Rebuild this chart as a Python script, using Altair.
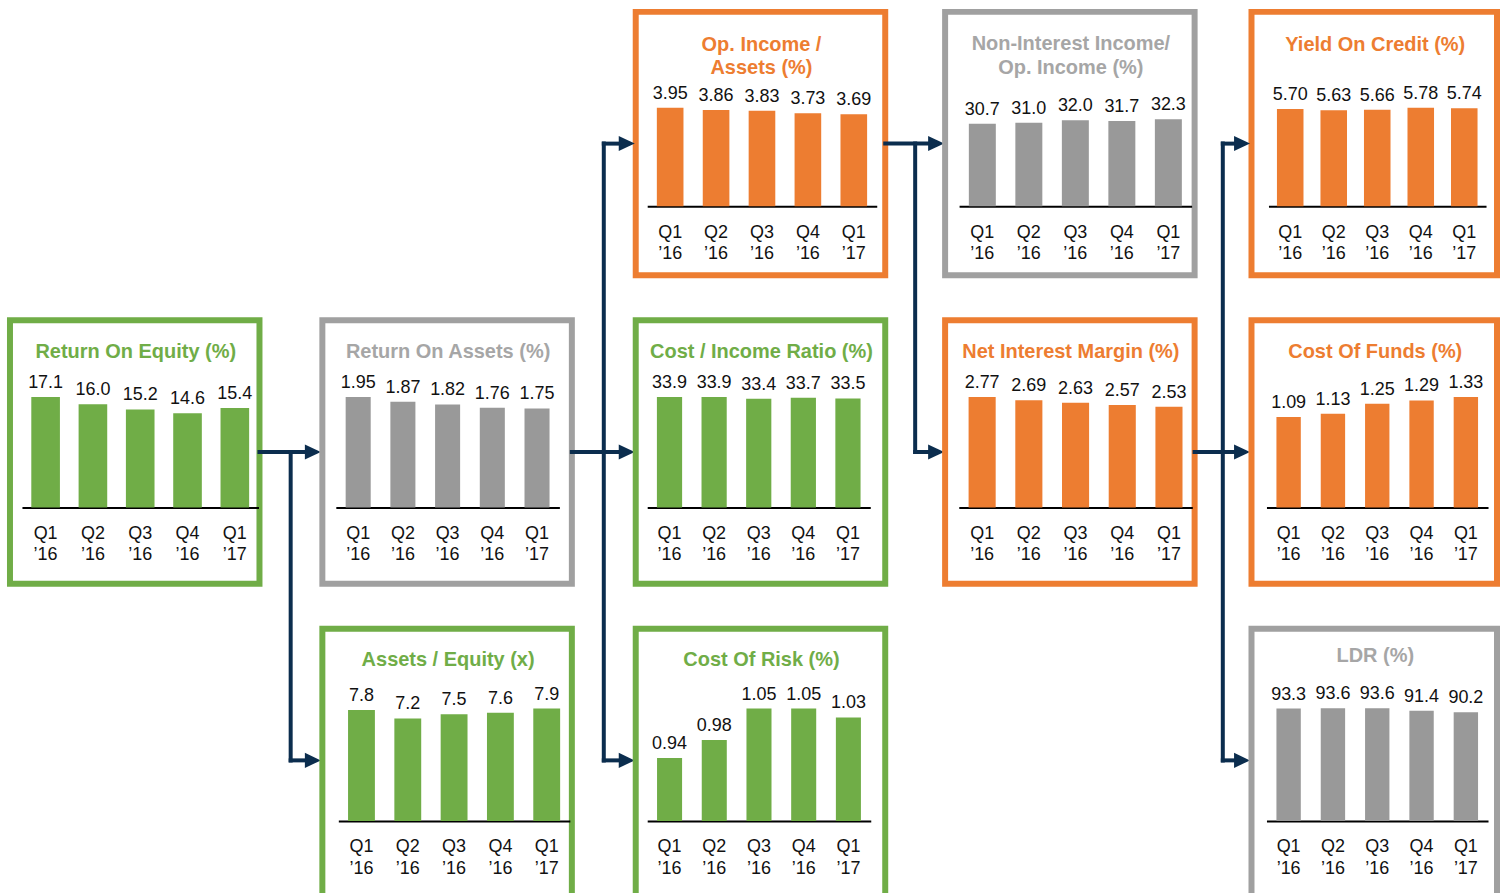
import altair as alt
import pandas as pd

# ---- data -------------------------------------------------------------
QUARTERS = ["Q1 ’16", "Q2 ’16", "Q3 ’16", "Q4 ’16", "Q1 ’17"]

ROE = [17.1, 16.0, 15.2, 14.6, 15.4]
ROA = [1.95, 1.87, 1.82, 1.76, 1.75]
ASSETS_EQUITY = [7.8, 7.2, 7.5, 7.6, 7.9]
OP_INCOME_ASSETS = [3.95, 3.86, 3.83, 3.73, 3.69]
COST_INCOME = [33.9, 33.9, 33.4, 33.7, 33.5]
COST_OF_RISK = [0.94, 0.98, 1.05, 1.05, 1.03]
NON_INTEREST_SHARE = [30.7, 31.0, 32.0, 31.7, 32.3]
NET_INTEREST_MARGIN = [2.77, 2.69, 2.63, 2.57, 2.53]
YIELD_ON_CREDIT = [5.70, 5.63, 5.66, 5.78, 5.74]
COST_OF_FUNDS = [1.09, 1.13, 1.25, 1.29, 1.33]
LDR = [93.3, 93.6, 93.6, 91.4, 90.2]

# ---- style ------------------------------------------------------------
FONT = "Liberation Sans"
GREEN = "#70AD47"
ORANGE = "#ED7D31"
GREY_BAR = "#999999"
GREY_BOX = "#A0A0A0"
GREY_TITLE = "#A6A6A6"
NAVY = "#0B2D4E"
INK = "#111111"

THEMES = {
    "green": dict(bar=GREEN, box=GREEN, title=GREEN),
    "orange": dict(bar=ORANGE, box=ORANGE, title=ORANGE),
    "grey": dict(bar=GREY_BAR, box=GREY_BOX, title=GREY_TITLE),
}

# ---- grid layout --------------------------------------------------------
COL_W = [250, 250, 250, 250, 246]
COL_GAPS = [62.5, 64, 60, 56.5]
ROW_H = [264, 264, 268]
ROW_GAP = 45
LEFT, TOP = 10, 11
COL_X = [LEFT + sum(COL_W[:i]) + sum(COL_GAPS[:i]) for i in range(5)]
ROW_Y = [TOP + sum(ROW_H[:i]) + ROW_GAP * i for i in range(3)]
BOX_STROKE = 6

# panel settings: grid cell, series, theme, label format, title lines,
# title baseline, x range of the baseline rule, bar fraction of the band,
# baseline position, value domain and pixel height of the domain top
PANELS = [
    dict(cell=(0, 1), values=ROE, theme="green", fmt=".1f",
         title=["Return On Equity (%)"], ty=38.2, xr=(12, 249), bar=0.605,
         base=187.7, lo=0, hi=17.1, px=110.7),
    dict(cell=(1, 1), values=ROA, theme="grey", fmt=".2f",
         title=["Return On Assets (%)"], ty=38.2, xr=(13.5, 237.5), bar=0.56,
         base=187.7, lo=0, hi=1.95, px=110.7),
    dict(cell=(1, 2), values=ASSETS_EQUITY, theme="green", fmt=".1f",
         title=["Assets / Equity (x)"], ty=37, xr=(16, 248), bar=0.58,
         base=192.7, lo=0, hi=7.9, px=112.7),
    dict(cell=(2, 0), values=OP_INCOME_ASSETS, theme="orange", fmt=".2f",
         title=["Op. Income /", "Assets (%)"], ty=39, xr=(11.5, 241.5), bar=0.58,
         base=194.7, lo=0, hi=3.95, px=98.7),
    dict(cell=(2, 1), values=COST_INCOME, theme="green", fmt=".1f",
         title=["Cost / Income Ratio (%)"], ty=38.2, xr=(11.5, 235), bar=0.565,
         base=187.7, lo=0, hi=33.9, px=110.7),
    dict(cell=(2, 2), values=COST_OF_RISK, theme="green", fmt=".2f",
         title=["Cost Of Risk (%)"], ty=37, xr=(11.5, 235.5), bar=0.56,
         base=192.7, lo=0.8, hi=1.05, px=112.7),
    dict(cell=(3, 0), values=NON_INTEREST_SHARE, theme="grey", fmt=".1f",
         title=["Non-Interest Income/", "Op. Income (%)"], ty=38.5, xr=(14, 247), bar=0.58,
         base=194.7, lo=0, hi=32.3, px=87),
    dict(cell=(3, 1), values=NET_INTEREST_MARGIN, theme="orange", fmt=".2f",
         title=["Net Interest Margin (%)"], ty=38.2, xr=(13.7, 247.7), bar=0.58,
         base=187.7, lo=0, hi=2.77, px=110.7),
    dict(cell=(4, 0), values=YIELD_ON_CREDIT, theme="orange", fmt=".2f",
         title=["Yield On Credit (%)"], ty=39, xr=(17, 235), bar=0.61,
         base=194.7, lo=0, hi=5.78, px=98.7),
    dict(cell=(4, 1), values=COST_OF_FUNDS, theme="orange", fmt=".2f",
         title=["Cost Of Funds (%)"], ty=38.2, xr=(15, 237), bar=0.55,
         base=187.7, lo=0, hi=1.33, px=110.7),
    dict(cell=(4, 2), values=LDR, theme="grey", fmt=".1f",
         title=["LDR (%)"], ty=33.3, xr=(15, 237), bar=0.55,
         base=192.7, lo=0, hi=93.6, px=113),
]

# ---- connectors: source cell -> rows of the next column ----------------
FLOWS = [
    ((0, 1), [1, 2]),
    ((1, 1), [0, 1, 2]),
    ((2, 0), [0, 1]),
    ((3, 1), [0, 1, 2]),
]
HEAD_LEN = 16
ARROW = "M-1,-0.94L1,0L-1,0.94Z"
ONE = pd.DataFrame({"k": [0]})


def row_mid(r):
    return ROW_Y[r] + 132


def connector_layers(src):
    """Rules and arrowheads that leave panel `src`, in that panel's pixels."""
    layers = []
    for (c, r), rows in FLOWS:
        if (c, r) != src:
            continue
        ox, oy = COL_X[c], ROW_Y[r]
        start = COL_X[c] + COL_W[c]
        tip = COL_X[c + 1] - 1
        g = (start + COL_X[c + 1]) / 2
        segs = [(start, row_mid(r), tip - HEAD_LEN + 2, row_mid(r))]
        ys = [row_mid(t) for t in rows] + [row_mid(r)]
        segs.append((g, min(ys), g, max(ys)))
        for t in rows:
            if t != r:
                segs.append((g, row_mid(t), tip - HEAD_LEN + 2, row_mid(t)))
        for x1, y1, x2, y2 in segs:
            layers.append(
                alt.Chart(ONE)
                .mark_rule(color=NAVY, strokeWidth=4, strokeCap="square")
                .encode(x=alt.value(x1 - ox), x2=alt.value(x2 - ox),
                        y=alt.value(y1 - oy), y2=alt.value(y2 - oy))
            )
        for t in rows:
            layers.append(
                alt.Chart(ONE)
                .mark_point(shape=ARROW, size=HEAD_LEN ** 2, filled=True,
                            color=NAVY, opacity=1, strokeWidth=0)
                .encode(x=alt.value(tip - HEAD_LEN / 2 - ox),
                        y=alt.value(row_mid(t) - oy))
            )
    return layers


def make_panel(p):
    c, r = p["cell"]
    w, h = COL_W[c], ROW_H[r]
    theme = THEMES[p["theme"]]
    df = pd.DataFrame({"quarter": QUARTERS, "value": p["values"]})
    pad = 1 - p["bar"]

    x = alt.X(
        "quarter:N", sort=None,
        scale=alt.Scale(range=list(p["xr"]), paddingInner=pad, paddingOuter=pad / 2),
        axis=alt.Axis(
            title=None, orient="bottom", offset=p["base"] - h,
            domainColor="#000000", domainWidth=2, ticks=False, tickSize=0,
            grid=False, labelAngle=0, labelOverlap=False,
            labelExpr="split(datum.label, ' ')",
            labelFont=FONT, labelFontSize=18, labelColor=INK,
            labelBaseline="alphabetic", labelPadding=31, labelLineHeight=21.5,
        ),
    )
    y = alt.Y(
        "value:Q",
        scale=alt.Scale(domain=[p["lo"], p["hi"]],
                        range=[p["base"], p["base"] - p["px"]],
                        zero=False, nice=False),
        axis=None,
    )

    bars = alt.Chart(df).mark_bar(color=theme["bar"]).encode(
        x=x, y=y, y2=alt.datum(p["lo"])
    )
    values = alt.Chart(df).mark_text(
        baseline="alphabetic", dy=-9, font=FONT, fontSize=18, color=INK
    ).encode(x=x, y=y, text=alt.Text("value:Q", format=p["fmt"]))
    title = alt.Chart(pd.DataFrame({"t": ["\n".join(p["title"])]})).mark_text(
        font=FONT, fontSize=20, fontWeight="bold", color=theme["title"],
        align="center", baseline="alphabetic", lineBreak="\n", lineHeight=23.5,
    ).encode(text="t:N", x=alt.value(w / 2 + 1), y=alt.value(p["ty"]))

    return alt.layer(bars, values, title, *connector_layers(p["cell"])).properties(
        width=w, height=h,
        view=alt.ViewBackground(stroke=theme["box"], strokeWidth=BOX_STROKE),
    )


def blank(w, h):
    return alt.Chart(ONE).mark_point(opacity=0).encode(
        x=alt.value(w / 2), y=alt.value(h / 2)
    ).properties(
        width=w, height=h,
        view=alt.ViewBackground(stroke="transparent", strokeWidth=BOX_STROKE),
    )


by_cell = {p["cell"]: make_panel(p) for p in PANELS}

# grid of panel columns interleaved with empty gap columns of their own width
cells = []
for r in range(3):
    for c in range(5):
        cells.append(by_cell.get((c, r), blank(COL_W[c], ROW_H[r])))
        if c < 4:
            cells.append(blank(COL_GAPS[c], ROW_H[r]))

chart = alt.concat(
    *cells,
    columns=9,
    spacing=alt.RowColnumber(row=ROW_GAP, column=0),
    bounds="flush",
    align="each",
).properties(
    padding={"left": LEFT - BOX_STROKE // 2, "top": TOP - BOX_STROKE // 2,
             "right": 0, "bottom": 0},
    background="white",
)

chart.save("out.html", embed_options={"renderer": "svg", "actions": False})
